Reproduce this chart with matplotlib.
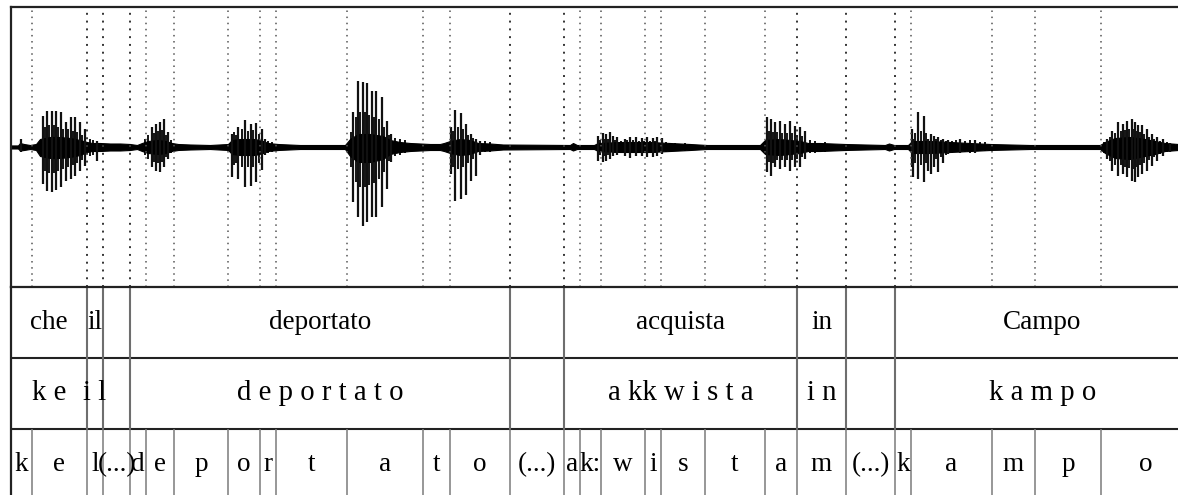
import matplotlib.pyplot as plt
import numpy as np

# Asse dei tempi in unità arbitrarie (frame), stesso asse per onda e livelli
t_start, t_end = 11, 1190

# Livello fonetico (segmenti)
phone_bounds = [11, 32, 87, 103, 130, 146, 174, 228, 260, 276, 347, 423, 450,
                510, 564, 580, 601, 645, 661, 705, 765, 797, 846, 895, 911,
                992, 1035, 1101, 1190]
phones = ["k", "e", "l", "(...)", "d", "e", "p", "o", "r", "t", "a", "t", "o",
          "(...)", "a", "k:", "w", "i", "s", "t", "a", "m", "(...)", "k", "a",
          "m", "p", "o"]

# Livello delle parole (ortografico e trascrizione larga)
word_bounds = [11, 87, 103, 130, 510, 564, 797, 846, 895, 1190]
words = ["che", "il", "", "deportato", "", "acquista", "in", "", "Campo"]
words_tr = ["k e", "i l", "", "d e p o r t a t o", "", "a kk w i s t a",
            "i n", "", "k a m p o"]

# Forma d'onda: fascia di rumore/inviluppo (sopra, sotto)
env_t = [11, 18, 20, 24, 30, 36, 40, 50, 60, 70, 80, 87, 92, 100, 110, 120,
         130, 137, 142, 148, 158, 166, 172, 178, 190, 210, 228, 232, 240, 255,
         263, 268, 278, 300, 345, 350, 358, 370, 383, 390, 400, 410, 430, 440,
         444, 450, 460, 470, 478, 490, 503, 570, 573, 577, 594, 598, 620, 650,
         670, 690, 707, 760, 765, 780, 800, 808, 820, 845, 885, 889, 894, 908,
         912, 930, 950, 970, 990, 1030, 1100, 1105, 1115, 1130, 1145, 1155,
         1165, 1178]
env_up = [1.5, 1.5, 4, 3, 2, 3, 8, 10, 10, 9, 7, 5, 4, 4, 3.5, 3.5,
          3, 2, 4, 6, 7, 6, 4, 3, 2.5, 2, 3, 7, 8, 8,
          6, 4, 3, 2, 2, 8, 13, 13, 11, 7, 5, 4, 3, 3,
          4, 6, 8, 7, 4, 3.5, 2.5, 2, 4, 2, 2, 4, 5, 5,
          4, 3, 2, 2, 7, 8, 6, 4, 4, 3, 2, 3.5, 2, 2,
          6, 6, 5, 4, 3, 2, 2, 5, 9, 10, 8, 6,
          4, 3]
env_dn = [1.5, 1.5, 3.5, 3, 2, 3, 9, 11, 11, 10, 8, 5, 4, 4, 3.5, 3.5,
          3, 2, 4, 6, 7, 6, 4, 3, 2.5, 2, 3, 7, 8, 8,
          6, 4, 3, 2, 2, 9, 15, 15, 12, 7, 5, 4, 3, 3,
          4, 6, 8, 7, 4, 3.5, 2.5, 2, 3.5, 2, 2, 4, 5, 5,
          4, 3, 2, 2, 7, 8, 6, 4, 4, 3, 2, 3.5, 2, 2,
          6, 6, 5, 4, 3, 2, 2, 6, 11, 12, 9, 7,
          4, 3]

# Picchi principali (impulsi glottali) ben visibili: tempo, sopra, sotto
spk_t = [21, 42.7, 47.3, 51.7, 56, 60.7, 65.7, 70.7, 75, 80, 85, 96.7,
         151.7, 156, 160, 164, 168.3,
         231.7, 238.3, 245, 250.7, 256, 261.7, 265,
         353.3, 358.3, 362.7, 366.7, 371.7, 376, 381.7, 386.7, 390.7,
         451, 455, 460.7, 465.7, 470.7, 476, 480,
         598, 602.7, 606, 610, 613.3, 617.3, 625, 630, 636, 641.7, 647.3,
         652.7, 657.3, 661.7,
         766.7, 770.7, 775, 780, 785, 790, 795, 800, 805,
         911.7, 913.3, 917.7, 924.3, 928.3, 931, 934.3, 938.3, 943.3, 948.3,
         960, 975,
         1107.3, 1112.3, 1118.3, 1123.3, 1126.7, 1131.7, 1135, 1138.3, 1141.7,
         1146.7, 1151.7, 1156.7, 1163.3, 1170]
spk_up = [8, 31.5, 36, 36, 36, 35, 25, 30, 30, 25, 18, 6,
          20.5, 23, 25, 28, 15,
          13, 20, 27, 23, 24, 18, 8,
          35, 66.5, 65, 64, 56.5, 56.5, 50, 26.5, 13,
          20, 37.5, 34, 23, 13, 8, 6.5,
          11.5, 14, 13, 15, 11.5, 10, 8.5, 10.5, 10, 9, 10,
          9, 10, 9,
          29.7, 28, 25, 26.5, 23, 26.5, 21.5, 20, 16,
          18, 8, 35, 31.5, 8, 13, 11.5, 10, 8.5, 7,
          8, 7,
          8, 16.5, 25, 23, 26.5, 28, 25, 22, 22,
          18, 13, 10, 8, 4]
spk_dn = [5, 36.8, 43.5, 45, 43, 40, 33.5, 32, 28.5, 23.5, 18.5, 13.5,
          20, 23.5, 25, 20, 11.5,
          30, 32, 39.5, 38.5, 35, 23, 8,
          55, 70, 78.5, 75, 70, 70, 60, 42, 15,
          27, 53.5, 52, 47.5, 33.5, 28.5, 8,
          13.5, 15, 13.5, 12, 9, 8, 9, 10.5, 9, 9, 10,
          10, 9, 7,
          25, 28.5, 20, 21.7, 20, 23.5, 20, 20, 12,
          20, 30, 32, 35, 24, 27, 20, 25, 15.5, 7,
          6, 6,
          12, 23.5, 28.5, 27, 30, 33.5, 35, 30, 27,
          23.5, 18.5, 14, 9, 5]

# Tratti minori fra un impulso e l'altro (tessitura delle vocali)
mnr_t = [45, 49.5, 54, 58.3, 63, 68, 73, 77.5, 82.5, 90, 93,
         145, 148, 153.8, 158, 162, 166, 171,
         234, 236, 241.7, 248, 253.3, 259, 268, 272,
         351, 356, 360.5, 364.7, 369.2, 373.8, 379, 384.2, 388.7, 395, 400, 405,
         453, 458, 463, 468, 473, 485, 490,
         600, 604.3, 608, 615, 621, 627.5, 633, 639, 644.5, 650, 655, 666,
         675, 685,
         768.7, 772.8, 777.5, 782.5, 787.5, 792.5, 797.5, 802.5, 810, 815, 825,
         915.5, 921, 926.3, 936, 941, 946, 952, 956, 965, 970, 980, 985,
         1104, 1110, 1115.3, 1120.8, 1125, 1129.2, 1133.3, 1136.7, 1140,
         1144.2, 1149.2, 1154.2, 1160, 1166.7, 1174]
mnr_up = [20, 22, 22, 20, 18, 18, 16, 15, 12, 8, 7,
          8, 12, 14, 16, 17, 12, 7,
          15, 12, 18, 16, 17, 13, 6, 5,
          15, 30, 35, 35, 32, 30, 28, 20, 12, 9, 8, 7,
          16, 20, 18, 12, 9, 6, 5,
          7, 8, 8, 7, 6, 7, 7, 6, 6, 6, 6, 5,
          4, 4,
          16, 15, 15, 14, 14, 14, 12, 11, 7, 6, 5,
          14, 16, 14, 8, 7, 6, 6, 7, 6, 7, 5, 5,
          5, 10, 14, 16, 17, 18, 18, 16, 15,
          13, 10, 8, 6, 5, 3]
mnr_dn = [24, 26, 26, 24, 22, 20, 18, 16, 13, 9, 8,
          8, 12, 15, 16, 15, 10, 6,
          18, 16, 20, 20, 20, 16, 6, 5,
          20, 35, 40, 40, 38, 36, 32, 25, 14, 9, 8, 6,
          20, 22, 20, 16, 12, 5, 5,
          8, 9, 8, 6, 6, 6, 6, 6, 6, 6, 6, 5,
          4, 4,
          15, 16, 13, 13, 13, 13, 12, 10, 6, 6, 5,
          16, 18, 16, 12, 10, 8, 6, 5, 5, 6, 4, 4,
          6, 14, 18, 18, 20, 21, 22, 20, 18,
          16, 13, 10, 7, 5, 3]

W, H = 1178, 495
plt.rcParams['font.family'] = ['Liberation Serif', 'DejaVu Serif']
fig = plt.figure(figsize=(W / 100, H / 100), dpi=100)


def rect(x0, y0, x1, y1):
    return [x0 / W, 1 - y1 / H, (x1 - x0) / W, (y1 - y0) / H]


# --- forma d'onda ---
ax = fig.add_axes(rect(11, 7, 1190, 287))
ax.set_xlim(t_start, t_end)
ax.set_ylim(-140, 140)
ax.fill_between(env_t, env_up, -np.array(env_dn), color='black', lw=0.8)
ax.plot(env_t, np.zeros(len(env_t)), color='black', lw=1.7)
ax.vlines(mnr_t, -np.array(mnr_dn), mnr_up, color='black', lw=1.3)
ax.vlines(spk_t, -np.array(spk_dn), spk_up, color='#111111', lw=1.6)
for b in phone_bounds[1:-1]:
    strong = b in word_bounds
    ax.axvline(b, color='#333333' if strong else '#555555',
               lw=1.4 if strong else 1.1, ls=(0, (1, 3)))
ax.set_xticks([])
ax.set_yticks([])
for s in ['right', 'bottom']:
    ax.spines[s].set_visible(False)
for s in ['top', 'left']:
    ax.spines[s].set_linewidth(1.6)
    ax.spines[s].set_color('#222222')

# --- livelli di annotazione ---
tx = fig.add_axes(rect(11, 287, 1190, 500))
tx.set_xlim(t_start, t_end)
tx.set_ylim(3, 0)
tx.set_xticks([])
tx.set_yticks([])
for s in ['right', 'bottom']:
    tx.spines[s].set_visible(False)
for s in ['top', 'left']:
    tx.spines[s].set_linewidth(1.6)
    tx.spines[s].set_color('#222222')
tx.axhline(1, color='#222222', lw=1.5)
tx.axhline(2, color='#222222', lw=1.5)

for i, (w1, w2) in enumerate(zip(words, words_tr)):
    a, b = word_bounds[i], word_bounds[i + 1]
    if i > 0:
        tx.vlines(a, 0, 2, color='#6e6e6e', lw=1.5)
    tx.text((a + b) / 2, 0.5, w1, ha='center', va='center', fontsize=19.5)
    tx.text((a + b) / 2, 1.5, w2, ha='center', va='center', fontsize=20.7)

for i, p in enumerate(phones):
    a, b = phone_bounds[i], phone_bounds[i + 1]
    if i > 0:
        tx.vlines(a, 2, 3, color='#7a7a7a', lw=1.1)
    tx.text((a + b) / 2, 2.5, p, ha='center', va='center', fontsize=19.5)

fig.savefig('out.png', dpi=100)
